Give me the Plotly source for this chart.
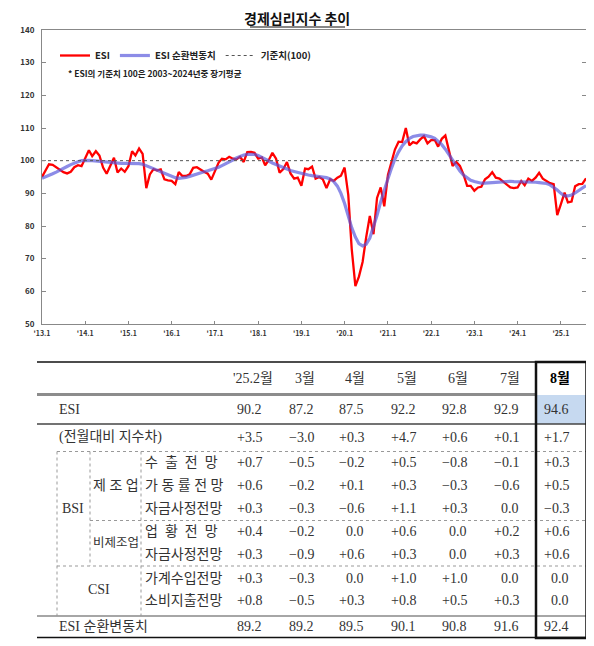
"""
경제심리지수(ESI) 추이 차트와 최근 월별 표.
"""
import plotly.graph_objects as go

# 월별 ESI, '13.1 ~ '25.8
ESI = [
    95.0, 97.2, 98.9, 98.7, 98.0, 97.3, 96.5, 96.1, 96.6, 98.0, 98.6, 98.3,
    101.0, 103.2, 101.4, 102.9, 101.6, 97.9, 96.0, 98.6, 100.9, 96.4, 97.6, 96.6,
    98.3, 102.9, 101.6, 103.7, 102.1, 91.6, 95.8, 97.4, 97.0, 97.3, 94.3, 94.0,
    93.8, 92.8, 96.5, 95.3, 95.3, 95.8, 97.8, 98.0, 97.2, 96.6, 96.0, 94.2,
    96.8, 99.4, 100.6, 100.4, 101.2, 100.6, 100.4, 101.2, 99.6, 102.6, 102.7, 102.4,
    100.6, 101.0, 98.6, 100.2, 102.4, 100.6, 96.3, 97.4, 99.6, 96.1, 94.5, 94.8,
    92.3, 97.6, 97.4, 98.2, 94.5, 95.0, 94.3, 91.6, 94.3, 93.8, 94.8, 95.4,
    97.9, 89.5, 73.0, 61.6, 64.5, 69.0, 76.5, 83.1, 77.5, 88.6, 91.8, 86.0,
    95.6, 99.8, 103.4, 105.8, 105.7, 110.0, 104.7, 105.7, 105.3, 106.5, 107.5, 105.3,
    106.3, 106.3, 104.3, 106.7, 107.7, 103.0, 98.4, 99.6, 98.4, 95.8, 92.3, 92.3,
    90.8, 91.8, 92.0, 94.3, 95.1, 96.5, 94.8, 94.5, 93.5, 92.5, 91.8, 91.6,
    91.8, 93.8, 92.5, 94.5, 93.8, 94.8, 96.3, 94.5, 93.8, 93.1, 92.8, 83.3,
    86.7, 90.2, 87.2, 87.5, 92.2, 92.8, 92.9, 94.6,
]

# ESI 순환변동치
CYCLE = [
    94.6, 95.0, 95.5, 96.0, 96.5, 97.0, 97.6, 98.2, 98.8, 99.3, 99.7, 100.0,
    100.1, 100.1, 100.0, 99.9, 99.8, 99.6, 99.4, 99.3, 99.2, 99.2, 99.2, 99.2,
    99.2, 99.2, 99.2, 99.1, 98.9, 98.5, 98.0, 97.5, 97.1, 96.6, 96.1, 95.6,
    95.1, 94.8, 94.6, 94.7, 94.9, 95.2, 95.6, 96.0, 96.3, 96.6, 96.9, 97.2,
    97.6, 98.0, 98.5, 99.0, 99.6, 100.2, 100.8, 101.3, 101.7, 101.9, 102.0, 101.9,
    101.6, 101.1, 100.5, 99.9, 99.3, 98.8, 98.3, 97.8, 97.4, 97.0, 96.7, 96.4,
    96.0, 95.8, 95.6, 95.4, 95.3, 95.2, 95.0, 94.8, 94.4, 93.6, 92.2, 90.0,
    86.9, 83.0, 79.5, 76.6, 74.6, 73.9, 74.4, 76.3, 79.5, 83.3, 87.4, 91.3,
    94.5, 97.8, 100.5, 102.7, 104.5, 105.8, 106.8, 107.4, 107.7, 107.8, 107.8, 107.6,
    107.3, 106.8, 106.0, 104.9, 103.5, 101.8, 100.0, 98.3, 96.8, 95.6, 94.7, 94.0,
    93.6, 93.3, 93.1, 93.1, 93.2, 93.3, 93.4, 93.5, 93.6, 93.6, 93.7, 93.6,
    93.6, 93.5, 93.5, 93.6, 93.5, 93.4, 93.3, 93.2, 93.0, 92.6, 91.9, 91.0,
    90.0, 89.2, 89.2, 89.5, 90.1, 90.8, 91.6, 92.4,
]

BASE = 100
MONTHS = [f"{2013 + k // 12}-{k % 12 + 1:02d}-01" for k in range(len(ESI))]
TICK_DATES = [f"{y}-01-01" for y in range(2013, 2026)]
TICK_TEXT = ["'13.1", "'14.1", "'15.1", "'16.1", "'17.1", "'18.1", "'19.1",
             "'20.1", "'21.1", "'22.1", "'23.1", "'24.1", "'25.1"]

# 표
TBL_MONTHS = ["'25.2월", "3월", "4월", "5월", "6월", "7월", "8월"]
TBL_ESI = [90.2, 87.2, 87.5, 92.2, 92.8, 92.9, 94.6]
TBL_CHG = [3.5, -3.0, 0.3, 4.7, 0.6, 0.1, 1.7]
MFG_EXPORT = [0.7, -0.5, -0.2, 0.5, -0.8, -0.1, 0.3]
MFG_UTIL = [0.6, -0.2, 0.1, 0.3, -0.3, -0.6, 0.5]
MFG_FUND = [0.3, -0.3, -0.6, 1.1, 0.3, 0.0, -0.3]
NMFG_BIZ = [0.4, -0.2, 0.0, 0.6, 0.0, 0.2, 0.6]
NMFG_FUND = [0.3, -0.9, 0.6, 0.3, 0.0, 0.3, 0.6]
CSI_INCOME = [0.3, -0.3, 0.0, 1.0, 1.0, 0.0, 0.0]
CSI_SPEND = [0.8, -0.5, 0.3, 0.8, 0.5, 0.3, 0.0]
TBL_CYCLE = [89.2, 89.2, 89.5, 90.1, 90.8, 91.6, 92.4]

# page has an 8px body margin, so the figure is drawn 8px smaller
OFF = 8
W, H = 594 - OFF, 646 - OFF
PL, PR, PT, PB = 42, 586, 30, 324   # plot area, page px


def px(x):
    return (x - PL) / (PR - PL)


def py(y):
    return (PB - y) / (PB - PT)


def signed(v):
    if v > 0:
        return f"+{v:.1f}"
    if v < 0:
        return f"\u2212{abs(v):.1f}"
    return "0.0"


SANS = "Noto Sans CJK KR"
SERIF = "Liberation Serif, Noto Sans CJK KR"
NB = "\u00a0"

fig = go.Figure()
fig.add_trace(go.Scatter(x=MONTHS, y=ESI, mode='lines', name='ESI',
                         line=dict(color='#ff0000', width=2.3)))
fig.add_trace(go.Scatter(x=MONTHS, y=CYCLE, mode='lines', name='ESI 순환변동치',
                         line=dict(color='rgba(85,85,220,0.68)', width=3.2)))
fig.add_trace(go.Scatter(x=[MONTHS[0], MONTHS[-1]], y=[BASE, BASE], mode='lines',
                         name='기준치(100)',
                         line=dict(color='#555555', width=1, dash='dot')))

annotations = []
shapes = []


def txt(x, y, s, anchor='left', size=14, color='#333', bold=False, family=SERIF):
    annotations.append(dict(x=px(x), y=py(y), xref='paper', yref='paper',
                            text=s, xanchor=anchor, yanchor='middle', showarrow=False,
                            font=dict(family=family, size=size, color=color,
                                      weight='bold' if bold else 'normal')))


def hline(y, x0, x1, color, width, dash='solid'):
    shapes.append(dict(type='line', xref='paper', yref='paper',
                       x0=px(x0), x1=px(x1), y0=py(y), y1=py(y),
                       line=dict(color=color, width=width, dash=dash)))


def vline(x, y0, y1, color, width, dash='solid'):
    shapes.append(dict(type='line', xref='paper', yref='paper',
                       x0=px(x), x1=px(x), y0=py(y0), y1=py(y1),
                       line=dict(color=color, width=width, dash=dash)))


# title + note
txt(297, 18, '경제심리지수 추이', anchor='center', size=14, color='#111', bold=True,
    family=SANS)
hline(27, 250, 345, '#111', 1.2)
txt(66, 73, '* ESI의 기준치 100은 2003~2024년중 장기평균', size=8.5, color='#222',
    bold=True, family=SANS)

COL_R = [264, 316, 366, 418, 469, 521, 571]

# highlight cell
shapes.append(dict(type='rect', xref='paper', yref='paper',
                   x0=px(536), x1=px(586), y0=py(395), y1=py(424),
                   fillcolor='#c6d9f0', line=dict(width=0), layer='below'))

for j, m in enumerate(TBL_MONTHS):
    last = j == len(TBL_MONTHS) - 1
    txt(COL_R[j] - 11, 378, m, anchor='center', bold=last,
        color='#000' if last else '#333')

rows = [
    (409, [f"{v:.1f}" for v in TBL_ESI]),
    (437, [signed(v) for v in TBL_CHG]),
    (462, [signed(v) for v in MFG_EXPORT]),
    (485, [signed(v) for v in MFG_UTIL]),
    (508, [signed(v) for v in MFG_FUND]),
    (531, [signed(v) for v in NMFG_BIZ]),
    (554, [signed(v) for v in NMFG_FUND]),
    (578, [signed(v) for v in CSI_INCOME]),
    (600, [signed(v) for v in CSI_SPEND]),
    (626, [f"{v:.1f}" for v in TBL_CYCLE]),
]
for y, vals in rows:
    for j, s in enumerate(vals):
        txt(COL_R[j], y, s, anchor='right')

txt(57, 409, 'ESI')
txt(57, 437, '(전월대비 지수차)')
txt(57, 626, 'ESI 순환변동치')
txt(73, 508, 'BSI', anchor='center')
txt(116, 485, '제 조 업', anchor='center')
txt(116, 543, '비제조업', anchor='center', size=12.5)
txt(99, 589, 'CSI', anchor='center')
spaced = (2 * NB).join
for y, s in [(462, spaced('수출전망')), (485, '가 동 률 전 망'), (508, '자금사정전망'),
             (531, spaced('업황전망')), (554, '자금사정전망'), (578, '가계수입전망'),
             (600, '소비지출전망')]:
    txt(143, y, s)

# table rules
hline(362, 37, 587, '#111', 1.5)
hline(394.5, 37, 536, '#8c8c8c', 3)
hline(424, 37, 587, '#444', 1.5)
hline(451.5, 57, 587, '#999', 1, 'dot')
hline(520.5, 90, 587, '#999', 1, 'dot')
hline(566, 57, 587, '#999', 1, 'dot')
hline(616, 37, 587, '#888', 1.5)
hline(637.5, 37, 587, '#111', 1.5)
vline(57, 451.5, 616, '#999', 1, 'dot')
vline(90, 451.5, 566, '#999', 1, 'dot')
vline(141, 451.5, 616, '#999', 1, 'dot')
shapes.append(dict(type='rect', xref='paper', yref='paper',
                   x0=px(536), x1=px(586.5), y0=py(362), y1=py(638),
                   line=dict(color='#111', width=2.5)))

fig.update_layout(
    width=W, height=H, autosize=False,
    margin=dict(l=PL - OFF, r=W + OFF - PR, t=PT - OFF, b=H + OFF - PB, pad=0),
    paper_bgcolor='white', plot_bgcolor='white',
    showlegend=True,
    legend=dict(orientation='h', x=px(55), y=py(41), xanchor='left', yanchor='top',
                font=dict(family=SANS, size=9.5, color='#222', weight='bold'),
                itemwidth=30, bgcolor='rgba(0,0,0,0)'),
    annotations=annotations,
    shapes=shapes,
)
fig.update_xaxes(type='date', range=[MONTHS[0], MONTHS[-1]],
                 tickvals=TICK_DATES, ticktext=TICK_TEXT,
                 ticks='inside', ticklen=3, tickcolor='#888',
                 showline=True, linecolor='#888', linewidth=1, mirror=True,
                 showgrid=False, zeroline=False, ticklabelstandoff=3,
                 tickfont=dict(family=SANS, size=7, color='#333', weight='bold'))
fig.update_yaxes(range=[50, 140], dtick=10, tick0=50,
                 ticks='inside', ticklen=4, tickcolor='#888',
                 showline=True, linecolor='#888', linewidth=1, mirror='ticks',
                 showgrid=False, zeroline=False, ticklabelstandoff=5,
                 tickfont=dict(family=SANS, size=8, color='#333', weight='bold'))

fig.write_html("out.html")
